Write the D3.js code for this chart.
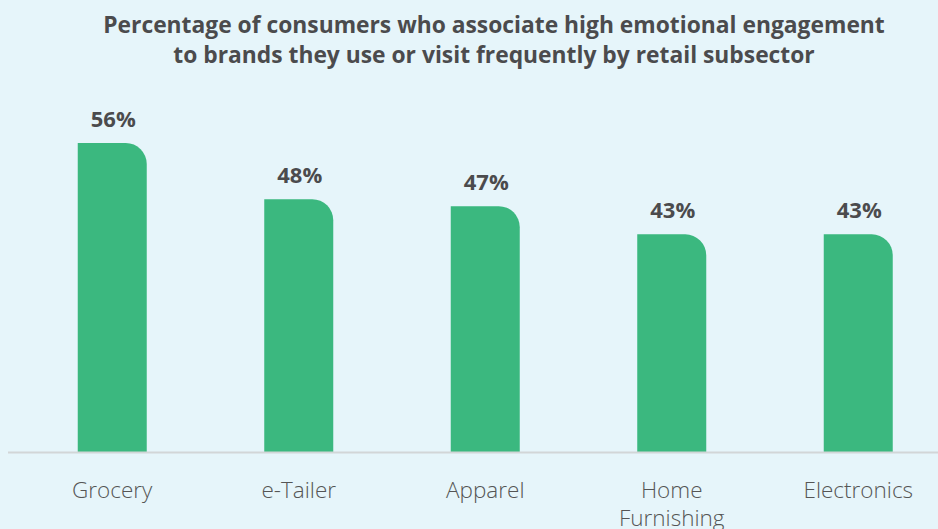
<!DOCTYPE html>
<html>
<head>
<meta charset="utf-8">
<script src="https://cdn.jsdelivr.net/npm/d3@7"></script>
<style>
  html, body { margin: 0; padding: 0; background: #e6f5fa; }
  svg { display: block; }
</style>
</head>
<body>
<svg id="chart" width="938" height="529"></svg>
<script>
const categories = ["Grocery", "e-Tailer", "Apparel", "Home Furnishing", "Electronics"];
const values = [56, 48, 47, 43, 43];
const valueLabels = ["56%", "48%", "47%", "43%", "43%"];
const titleLines = [
  "Percentage of consumers who associate high emotional engagement",
  "to brands they use or visit frequently by retail subsector"
];

const W = 938, H = 529;
const FONT = "'Open Sans', 'Noto Sans', sans-serif";
const svg = d3.select("#chart");
svg.append("rect").attr("width", W).attr("height", H).attr("fill", "#e6f5fa");

const baseY = 452;
const x = d3.scaleBand().domain(categories).range([19, 951.5]).paddingInner(0.63).paddingOuter(0.315);
const y = d3.scaleLinear().domain([12, 56]).range([baseY, 143]);

// Title
const title = svg.append("text")
  .attr("text-anchor", "middle")
  .attr("font-family", FONT)
  .attr("font-weight", 700)
  .attr("font-size", 20)
  .attr("fill", "#4b4b4d");
titleLines.forEach((t, i) => {
  title.append("tspan").attr("x", 494).attr("y", 33 + i * 30).text(t);
});
// fit title width to reference (~782px for first line)
const firstLen = title.select("tspan").node().getComputedTextLength();
title.attr("font-size", 20 * 782 / firstLen);

// Bars with rounded top-right corner
const r = 21;
svg.append("g").selectAll("path")
  .data(categories)
  .join("path")
  .attr("fill", "#3bb87f")
  .attr("d", (c, i) => {
    const x0 = x(c), w = x.bandwidth(), top = y(values[i]);
    return `M${x0},${baseY}V${top}H${x0 + w - r}A${r},${r} 0 0 1 ${x0 + w},${top + r}V${baseY}Z`;
  });

// Value labels
svg.append("g").selectAll("text")
  .data(categories)
  .join("text")
  .attr("x", c => x(c) + x.bandwidth() / 2 + 1)
  .attr("y", (c, i) => y(values[i]) - 16)
  .attr("text-anchor", "middle")
  .attr("font-family", FONT)
  .attr("font-weight", 700)
  .attr("font-size", 22)
  .attr("fill", "#4b4b4d")
  .text((c, i) => valueLabels[i]);

// Baseline
svg.append("line")
  .attr("x1", 8).attr("x2", W)
  .attr("y1", baseY + 0.5).attr("y2", baseY + 0.5)
  .attr("stroke", "#d2d6d7").attr("stroke-width", 2);

// Category axis
const axis = svg.append("g")
  .attr("transform", `translate(0,${baseY})`)
  .call(d3.axisBottom(x).tickSize(0).tickPadding(0));
axis.select(".domain").remove();
axis.selectAll("text")
  .attr("font-family", FONT)
  .attr("font-weight", 300)
  .attr("font-size", 22.5)
  .attr("fill", "#555555")
  .attr("dy", null)
  .attr("y", 46)
  .each(function(d) {
    const words = d.split(" ");
    const el = d3.select(this);
    el.text(null);
    words.forEach((w, i) => {
      el.append("tspan").attr("x", 0).attr("y", 46 + i * 28).text(w);
    });
  });
</script>
</body>
</html>
